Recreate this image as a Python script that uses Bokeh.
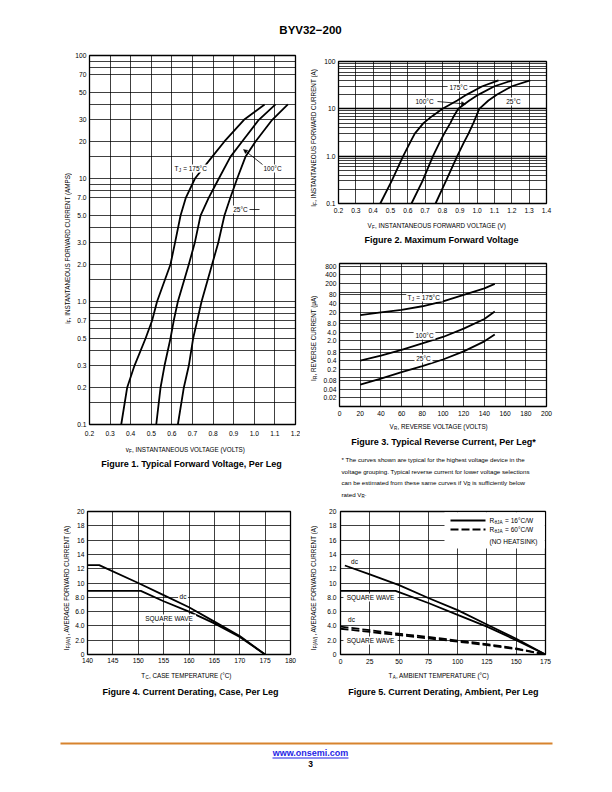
import re
from bokeh.plotting import figure
from bokeh.models import Range1d, FixedTicker, Label, Arrow, NormalHead, BoxAnnotation, Grid
from bokeh.layouts import column, row
from bokeh.embed import file_html
from bokeh.resources import INLINE

FONT = "Liberation Sans"
INK = "black"

# ---------------- Figure 1: typical forward voltage ----------------
f1_i = [0.1, 0.2, 0.3, 0.5, 0.7, 1.0, 2.0, 3.0, 5.0, 7.0, 10, 15, 20, 30, 40]
f1_v175 = [0.354, 0.383, 0.418, 0.472, 0.504, 0.528, 0.593, 0.615, 0.642, 0.668, 0.712, 0.795, 0.855, 0.950, 1.050]
f1_v100 = [0.524, 0.545, 0.564, 0.593, 0.609, 0.629, 0.682, 0.711, 0.739, 0.779, 0.828, 0.884, 0.941, 1.022, 1.103]
f1_v25 = [0.629, 0.658, 0.682, 0.703, 0.723, 0.744, 0.795, 0.825, 0.855, 0.884, 0.917, 0.957, 1.006, 1.087, 1.163]
f1_xticks = [0.2, 0.3, 0.4, 0.5, 0.6, 0.7, 0.8, 0.9, 1.0, 1.1, 1.2]
f1_xlabels = ["0.2", "0.3", "0.4", "0.5", "0.6", "0.7", "0.8", "0.9", "1.0", "1.1", "1.2"]
f1_yticks = [0.1, 0.2, 0.3, 0.5, 0.7, 1.0, 2.0, 3.0, 5.0, 7.0, 10, 20, 30, 50, 70, 100]
f1_ylabels = ["0.1", "0.2", "0.3", "0.5", "0.7", "1.0", "2.0", "3.0", "5.0", "7.0", "10", "20", "30", "50", "70", "100"]
f1_ygrid = [0.15, 0.2, 0.3, 0.4, 0.5, 0.6, 0.7, 0.8, 0.9, 1.0, 1.5, 2, 3, 4, 5, 7, 8, 9, 10, 15, 20, 30, 40, 50, 70, 80, 90]

# ---------------- Figure 2: maximum forward voltage ----------------
f2_i = [0.1, 0.3, 1.0, 2.0, 3.0, 5.0, 7.0, 10, 15, 20, 30, 40]
f2_v175 = [0.441, 0.507, 0.573, 0.615, 0.640, 0.690, 0.740, 0.800, 0.885, 0.940, 1.030, 1.123]
f2_v100 = [0.621, 0.685, 0.745, 0.785, 0.810, 0.845, 0.865, 0.891, 0.955, 1.008, 1.100, 1.204]
f2_v25 = [0.760, 0.820, 0.885, 0.925, 0.950, 0.978, 0.995, 1.012, 1.065, 1.115, 1.200, 1.306]
f2_xticks = [0.2, 0.3, 0.4, 0.5, 0.6, 0.7, 0.8, 0.9, 1.0, 1.1, 1.2, 1.3, 1.4]
f2_xlabels = ["0.2", "0.3", "0.4", "0.5", "0.6", "0.7", "0.8", "0.9", "1.0", "1.1", "1.2", "1.3", "1.4"]
f2_yticks = [0.1, 1.0, 10, 100]
f2_ylabels = ["0.1", "1.0", "10", "100"]
f2_ygrid = [0.2, 0.3, 0.4, 0.5, 0.6, 0.7, 0.8, 0.9, 1, 2, 3, 4, 5, 6, 7, 8, 9, 10, 20, 30, 40, 50, 60, 70, 80, 90]
f2_ydecades = [1, 10]

# ---------------- Figure 3: typical reverse current ----------------
f3_v = [20, 40, 60, 80, 100, 120, 140, 150]
f3_i175 = [15.8, 19.5, 24, 32, 47, 80, 135, 195]
f3_i100 = [0.40, 0.60, 0.95, 1.6, 2.7, 5.3, 11.5, 21]
f3_i25 = [0.058, 0.095, 0.16, 0.26, 0.44, 0.85, 1.9, 3.3]
f3_xticks = [0, 20, 40, 60, 80, 100, 120, 140, 160, 180, 200]
f3_xlabels = ["0", "20", "40", "60", "80", "100", "120", "140", "160", "180", "200"]
f3_yticks = [0.02, 0.04, 0.08, 0.2, 0.4, 0.8, 2, 4, 8, 20, 40, 80, 200, 400, 800]
f3_ylabels = ["0.02", "0.04", "0.08", "0.2", "0.4", "0.8", "2.0", "4.0", "8.0", "20", "40", "80", "200", "400", "800"]
f3_ygrid = [0.02, 0.04, 0.08, 0.1, 0.2, 0.4, 0.8, 1, 2, 4, 8, 10, 20, 40, 80, 100, 200, 400, 800]

# ---------------- Figure 4: current derating, case ----------------
f4_t_dc = [140, 142.3, 150, 155, 160, 165, 170, 175]
f4_i_dc = [12.5, 12.5, 10.0, 8.3, 6.6, 4.6, 2.6, 0.0]
f4_t_sq = [140, 150.5, 155, 160, 165, 170, 175]
f4_i_sq = [8.9, 8.9, 7.45, 6.0, 4.35, 2.45, 0.0]
f4_xticks = [140, 145, 150, 155, 160, 165, 170, 175, 180]
f4_xlabels = ["140", "145", "150", "155", "160", "165", "170", "175", "180"]

# ---------------- Figure 5: current derating, ambient ----------------
f5_t_dc16 = [3.7, 25, 50, 75, 100, 125, 150, 175]
f5_i_dc16 = [12.45, 11.2, 9.7, 7.9, 6.2, 4.2, 2.2, 0.0]
f5_t_sq16 = [0, 47, 75, 100, 125, 150, 175]
f5_i_sq16 = [8.9, 8.9, 7.2, 5.55, 3.9, 2.0, 0.0]
f5_t_60 = [0, 25, 50, 75, 100, 125, 150, 175]
f5_i_dc60 = [3.9, 3.4, 2.9, 2.45, 1.95, 1.45, 0.85, 0.0]
f5_i_sq60 = [3.6, 3.15, 2.7, 2.25, 1.8, 1.3, 0.75, 0.0]
f5_xticks = [0, 25, 50, 75, 100, 125, 150, 175]
f5_xlabels = ["0", "25", "50", "75", "100", "125", "150", "175"]

iav_ticks = [0, 2, 4, 6, 8, 10, 12, 14, 16, 18, 20]
iav_labels = ["0", "2.0", "4.0", "6.0", "8.0", "10", "12", "14", "16", "18", "20"]

# ---------------- text helpers ----------------
AW = {c: 556 for c in "0123456789"}
AW.update({' ': 278, ',': 278, '.': 278, '(': 333, ')': 333, '*': 389, '=': 584, '/': 278, '-': 333,
           '°': 400, 'μ': 576, 'θ': 556, '−': 584,
           'A': 667, 'B': 667, 'C': 722, 'D': 722, 'E': 667, 'F': 611, 'G': 778, 'H': 722, 'I': 278,
           'J': 500, 'K': 667, 'L': 556, 'M': 833, 'N': 722, 'O': 778, 'P': 667, 'Q': 778, 'R': 722,
           'S': 667, 'T': 611, 'U': 722, 'V': 667, 'W': 944, 'X': 667, 'Y': 667, 'Z': 611,
           'a': 556, 'b': 556, 'c': 500, 'd': 556, 'e': 556, 'f': 278, 'g': 556, 'h': 556, 'i': 222,
           'j': 222, 'k': 500, 'l': 222, 'm': 833, 'n': 556, 'o': 556, 'p': 556, 'q': 556, 'r': 333,
           's': 500, 't': 278, 'u': 556, 'v': 500, 'w': 722, 'x': 500, 'y': 500, 'z': 500})


def text_width(s, size, wf=1.07):
    return wf * sum(AW.get(c, 556) for c in s) * size / 1000.0


def parse(s):
    parts = re.split(r"_\{([^}]*)\}", s)
    raw = [(t, k % 2 == 1) for k, t in enumerate(parts) if t]
    out = []
    for idx, (t, is_sub) in enumerate(raw):
        nxt_sub = idx + 1 < len(raw) and raw[idx + 1][1]
        if not is_sub and nxt_sub and ' ' in t.strip():
            cut = t.rstrip().rfind(' ')
            out.append((t[:cut], False))
            out.append((t[cut:], False))
        else:
            out.append((t, is_sub))
    return out


def put_text(p, fr, px, py, s, size=6.5, align="center", angle=0.0, bold=False, bg=False,
             color=INK, wf=1.07):
    """Place text at page coordinates (px, py); fr=(L,T,R,B) is the page box of p's frame."""
    x0 = px - fr[0]
    y0 = fr[3] - py
    pieces = parse(s)
    sub = size * 0.72
    widths = [text_width(t, sub if is_sub else size, wf) for t, is_sub in pieces]
    total = sum(widths)
    start = {"left": 0.0, "center": -total / 2.0, "right": -total}[align]
    if bg and angle == 0:
        p.add_layout(BoxAnnotation(left=x0 + start - 1.2, right=x0 + start + total + 1.2,
                                   bottom=y0 - size * 0.6, top=y0 + size * 0.6,
                                   left_units="screen", right_units="screen",
                                   top_units="screen", bottom_units="screen",
                                   fill_color="white", fill_alpha=1.0, line_color=None))
    style = "bold" if bold else "normal"
    if len(pieces) == 1:
        p.add_layout(Label(x=x0, y=y0, x_units="screen", y_units="screen", text=pieces[0][0].strip(),
                           angle=angle, text_font=FONT, text_font_size=f"{size:.2f}px",
                           text_font_style=style, text_align=align, text_baseline="middle",
                           text_color=color))
        return
    pos = start
    for (t, is_sub), w in zip(pieces, widths):
        fs = sub if is_sub else size
        shift = size * 0.3 if is_sub else 0.0
        lead = text_width(t[:len(t) - len(t.lstrip(' '))], fs, wf)
        q = pos + lead
        if angle == 0:
            sx, sy = x0 + q, y0 - shift
        else:
            sx, sy = x0 + shift, y0 + q
        p.add_layout(Label(x=sx, y=sy, x_units="screen", y_units="screen", text=t.strip(), angle=angle,
                           text_font=FONT, text_font_size=f"{fs:.2f}px", text_font_style=style,
                           text_align="left", text_baseline="middle", text_color=color))
        pos += w


def seg(p, fr, xa, ya, xb, yb, width=0.8, dash="solid", head=False, color=INK):
    end = NormalHead(size=4, fill_color=color, line_color=color, line_width=0.5) if head else None
    p.add_layout(Arrow(x_start=xa - fr[0], y_start=fr[3] - ya, x_end=xb - fr[0], y_end=fr[3] - yb,
                       start_units="screen", end_units="screen", end=end,
                       line_color=color, line_width=width, line_dash=dash))


def blank(w, h):
    p = figure(width=w, height=h, x_range=Range1d(0, 1), y_range=Range1d(0, 1), title=None,
               output_backend="svg", toolbar_location=None, tools="",
               x_axis_location=None, y_axis_location=None, min_border=0)
    p.outline_line_color = None
    p.xgrid.visible = False
    p.ygrid.visible = False
    p.background_fill_color = "white"
    p.border_fill_color = "white"
    return p


def ticks(ax, vals, labels, standoff):
    ax.ticker = FixedTicker(ticks=vals)
    ax.major_label_overrides = dict(zip(vals, labels))
    ax.axis_line_color = None
    ax.major_tick_line_color = None
    ax.minor_tick_line_color = None
    ax.major_tick_in = 0
    ax.major_tick_out = 0
    ax.major_label_standoff = standoff
    ax.major_label_text_font = FONT
    ax.major_label_text_font_size = "6.7px"
    ax.major_label_text_color = INK


def block(fr, box, ystrip_right, chart_bottom, xr, yr, ylog=False):
    """box = (left, top, right, bottom) page box of the whole block; fr = page box of the plot frame."""
    L, T, R, B = box
    ys = blank(ystrip_right - L, B - T)
    ys_fr = (L, T, ystrip_right, B)
    w = R - ystrip_right
    h = chart_bottom - T
    p = figure(width=w, height=h, x_range=Range1d(*xr), y_range=Range1d(*yr),
               y_axis_type="log" if ylog else "linear", title=None,
               output_backend="svg", toolbar_location=None, tools="",
               min_border_left=int(round(fr[0] - ystrip_right)), min_border_right=int(round(R - fr[2])),
               min_border_top=int(round(fr[1] - T)), min_border_bottom=int(round(chart_bottom - fr[3])))
    p.outline_line_color = INK
    p.outline_line_width = 1.3
    p.background_fill_color = "white"
    p.border_fill_color = "white"
    p.grid.grid_line_color = INK
    p.grid.grid_line_width = 0.75
    p.grid.grid_line_alpha = 1.0
    bs = blank(R - ystrip_right, B - chart_bottom)
    # the strip below shares the chart's column, so its frame is aligned with the chart frame
    bs_fr = (fr[0], chart_bottom, fr[2], B)
    lay = row(ys, column(p, bs))
    return p, (ys, ys_fr), (bs, bs_fr), lay


LW = 1.8
CAP = 9.0
ROT = 1.5707963
YL = 6.3
XL = 6.3

# ---------------- header ----------------
FRH = (0, 0, 612, 45)
ph = blank(612, 45)
put_text(ph, FRH, 310, 29.5, "BYV32−200", size=11.5, bold=True)

# ---------------- Figure 1 ----------------
FR1 = (89, 55, 295, 424)
p1, (y1, y1f), (b1, b1f), lay1 = block(FR1, (0, 45, 300, 505), 72, 440, (0.2, 1.2), (0.1, 100), ylog=True)
ticks(p1.xaxis[0], f1_xticks, f1_xlabels, 6)
ticks(p1.yaxis[0], f1_yticks, f1_ylabels, 3)
p1.xgrid.ticker = FixedTicker(ticks=f1_xticks)
p1.ygrid.ticker = FixedTicker(ticks=f1_ygrid)
for v in (f1_v175, f1_v100, f1_v25):
    p1.line(v, f1_i, line_width=LW, line_color=INK)
put_text(y1, y1f, 67, 242, "i_{F}, INSTANTANEOUS FORWARD CURRENT (AMPS)", size=YL, angle=ROT)
put_text(b1, b1f, 190, 449, "v_{F}, INSTANTANEOUS VOLTAGE (VOLTS)", size=XL)
put_text(b1, b1f, 191, 463, "Figure 1. Typical Forward Voltage, Per Leg", size=CAP, bold=True)
put_text(p1, FR1, 191, 168, "T_{J} = 175°C", bg=True)
put_text(p1, FR1, 272, 168, "100°C", bg=True)
put_text(p1, FR1, 240, 209, "25°C", bg=True)
seg(p1, FR1, 262, 164, 243, 149, head=True)
seg(p1, FR1, 249, 209, 259, 209)

# ---------------- Figure 2 ----------------
FR2 = (338, 61, 546, 203)
p2, (y2, y2f), (b2, b2f), lay2 = block(FR2, (300, 45, 612, 250), 318, 218, (0.2, 1.4), (0.1, 100), ylog=True)
ticks(p2.xaxis[0], f2_xticks, f2_xlabels, 4)
ticks(p2.yaxis[0], f2_yticks, f2_ylabels, 3)
p2.xgrid.ticker = FixedTicker(ticks=f2_xticks)
p2.ygrid.ticker = FixedTicker(ticks=f2_ygrid)
p2.add_layout(Grid(dimension=1, ticker=FixedTicker(ticks=f2_ydecades), grid_line_color=INK,
                   grid_line_width=1.3))
for v in (f2_v175, f2_v100, f2_v25):
    p2.line(v, f2_i, line_width=LW, line_color=INK)
put_text(y2, y2f, 313, 132, "I_{F}, INSTANTANEOUS FORWARD CURRENT (A)", size=YL, angle=ROT)
put_text(b2, b2f, 442, 225, "V_{F}, INSTANTANEOUS FORWARD VOLTAGE (V)", size=XL)
put_text(b2, b2f, 441, 239.5, "Figure 2. Maximum Forward Voltage", size=CAP, bold=True)
put_text(p2, FR2, 458, 87, "175°C", bg=True)
put_text(p2, FR2, 424, 101, "100°C", bg=True)
put_text(p2, FR2, 513, 101, "25°C", bg=True)
seg(p2, FR2, 437, 101, 465, 103.5, head=True)

# ---------------- Figure 3 ----------------
FR3 = (339, 263, 546, 406)
p3, (y3, y3f), (b3, b3f), lay3 = block(FR3, (300, 250, 612, 505), 318, 420, (0, 200), (0.01, 1000), ylog=True)
ticks(p3.xaxis[0], f3_xticks, f3_xlabels, 4)
ticks(p3.yaxis[0], f3_yticks, f3_ylabels, 3)
p3.xgrid.ticker = FixedTicker(ticks=f3_xticks)
p3.ygrid.ticker = FixedTicker(ticks=f3_ygrid)
for i_r in (f3_i175, f3_i100, f3_i25):
    p3.line(f3_v, i_r, line_width=LW, line_color=INK)
put_text(y3, y3f, 313, 335, "I_{R}, REVERSE CURRENT (μA)", size=YL, angle=ROT)
put_text(b3, b3f, 442, 426, "V_{R}, REVERSE VOLTAGE (VOLTS)", size=XL)
put_text(b3, b3f, 443, 441, "Figure 3. Typical Reverse Current, Per Leg*", size=CAP, bold=True)
put_text(p3, FR3, 424, 297, "T_{J} = 175°C", bg=True)
put_text(p3, FR3, 424, 335, "100°C", bg=True)
put_text(p3, FR3, 423, 358, "25°C", bg=True)
notes = ["* The curves shown are typical for the highest voltage device in the",
         "voltage grouping. Typical reverse current for lower voltage selections",
         "can be estimated from these same curves if V_{R} is sufficiently below",
         "rated V_{R}."]
for k, line in enumerate(notes):
    put_text(b3, b3f, 341, 459 + 11.6 * k, line, size=6.2, align="left", wf=1.0)

# ---------------- Figure 4 ----------------
FR4 = (87, 511, 290, 654)
p4, (y4, y4f), (b4, b4f), lay4 = block(FR4, (0, 505, 300, 705), 71, 668, (140, 180), (0, 20))
ticks(p4.xaxis[0], f4_xticks, f4_xlabels, 3)
ticks(p4.yaxis[0], iav_ticks, iav_labels, 3)
p4.xgrid.ticker = FixedTicker(ticks=f4_xticks)
p4.ygrid.ticker = FixedTicker(ticks=iav_ticks)
p4.line(f4_t_dc, f4_i_dc, line_width=LW, line_color=INK)
p4.line(f4_t_sq, f4_i_sq, line_width=LW, line_color=INK)
put_text(y4, y4f, 66, 583, "I_{F(AV)}, AVERAGE FORWARD CURRENT (A)", size=YL, angle=ROT)
put_text(b4, b4f, 189, 675, "T_{C}, CASE TEMPERATURE (°C)", size=XL)
put_text(b4, b4f, 190, 691, "Figure 4. Current Derating, Case, Per Leg", size=CAP, bold=True)
put_text(p4, FR4, 182.5, 596, "dc", bg=True)
put_text(p4, FR4, 168.5, 618, "SQUARE WAVE", bg=True)

# ---------------- Figure 5 ----------------
FR5 = (340, 511, 545, 654)
p5, (y5, y5f), (b5, b5f), lay5 = block(FR5, (300, 505, 612, 705), 318, 668, (0, 175), (0, 20))
ticks(p5.xaxis[0], f5_xticks, f5_xlabels, 4)
ticks(p5.yaxis[0], iav_ticks, iav_labels, 4)
p5.xgrid.ticker = FixedTicker(ticks=f5_xticks)
p5.ygrid.ticker = FixedTicker(ticks=iav_ticks)
p5.line(f5_t_dc16, f5_i_dc16, line_width=LW, line_color=INK)
p5.line(f5_t_sq16, f5_i_sq16, line_width=LW, line_color=INK)
p5.line(f5_t_60, f5_i_dc60, line_width=LW, line_color=INK, line_dash="8 3")
p5.line(f5_t_60, f5_i_sq60, line_width=LW, line_color=INK, line_dash="8 3")
put_text(y5, y5f, 313, 583, "I_{F(AV)}, AVERAGE FORWARD CURRENT (A)", size=YL, angle=ROT)
put_text(b5, b5f, 442, 675, "T_{A}, AMBIENT TEMPERATURE (°C)", size=XL)
put_text(b5, b5f, 443, 691, "Figure 5. Current Derating, Ambient, Per Leg", size=CAP, bold=True)
put_text(p5, FR5, 354, 561, "dc", bg=True)
put_text(p5, FR5, 370, 597, "SQUARE WAVE", bg=True)
put_text(p5, FR5, 351, 619, "dc", bg=True)
put_text(p5, FR5, 370, 640, "SQUARE WAVE", bg=True)
# legend box, sample lines and texts
p5.add_layout(BoxAnnotation(left=444 - FR5[0], right=544.3 - FR5[0], bottom=FR5[3] - 548, top=FR5[3] - 511.7,
                            left_units="screen", right_units="screen", top_units="screen",
                            bottom_units="screen", fill_color="white", fill_alpha=1.0, line_color=None))
seg(p5, FR5, 450, 520, 485, 520, width=LW)
seg(p5, FR5, 450, 529, 485, 529, width=LW, dash="8 3")
put_text(p5, FR5, 489, 520, "R_{θJA} = 16°C/W", align="left")
put_text(p5, FR5, 489, 529, "R_{θJA} = 60°C/W", align="left")
put_text(p5, FR5, 489, 541, "(NO HEATSINK)", align="left")

# ---------------- footer ----------------
FRF = (0, 705, 612, 792)
pf = blank(612, 87)
pf.add_layout(BoxAnnotation(left=60, right=552, bottom=792 - 744, top=792 - 742,
                            left_units="screen", right_units="screen", top_units="screen",
                            bottom_units="screen", fill_color="#D7832E", fill_alpha=1.0, line_color=None))
put_text(pf, FRF, 310, 752, "www.onsemi.com", size=9, bold=True, color="#1F1FE6")
seg(pf, FRF, 272, 757.5, 348, 757.5, width=1.0, color="#1F1FE6")
put_text(pf, FRF, 310, 763, "3", size=8.5, bold=True)

layout = column(ph,
                row(lay1, column(lay2, lay3)),
                row(lay4, lay5),
                pf)

open("out.html", "w").write(file_html(layout, INLINE))
